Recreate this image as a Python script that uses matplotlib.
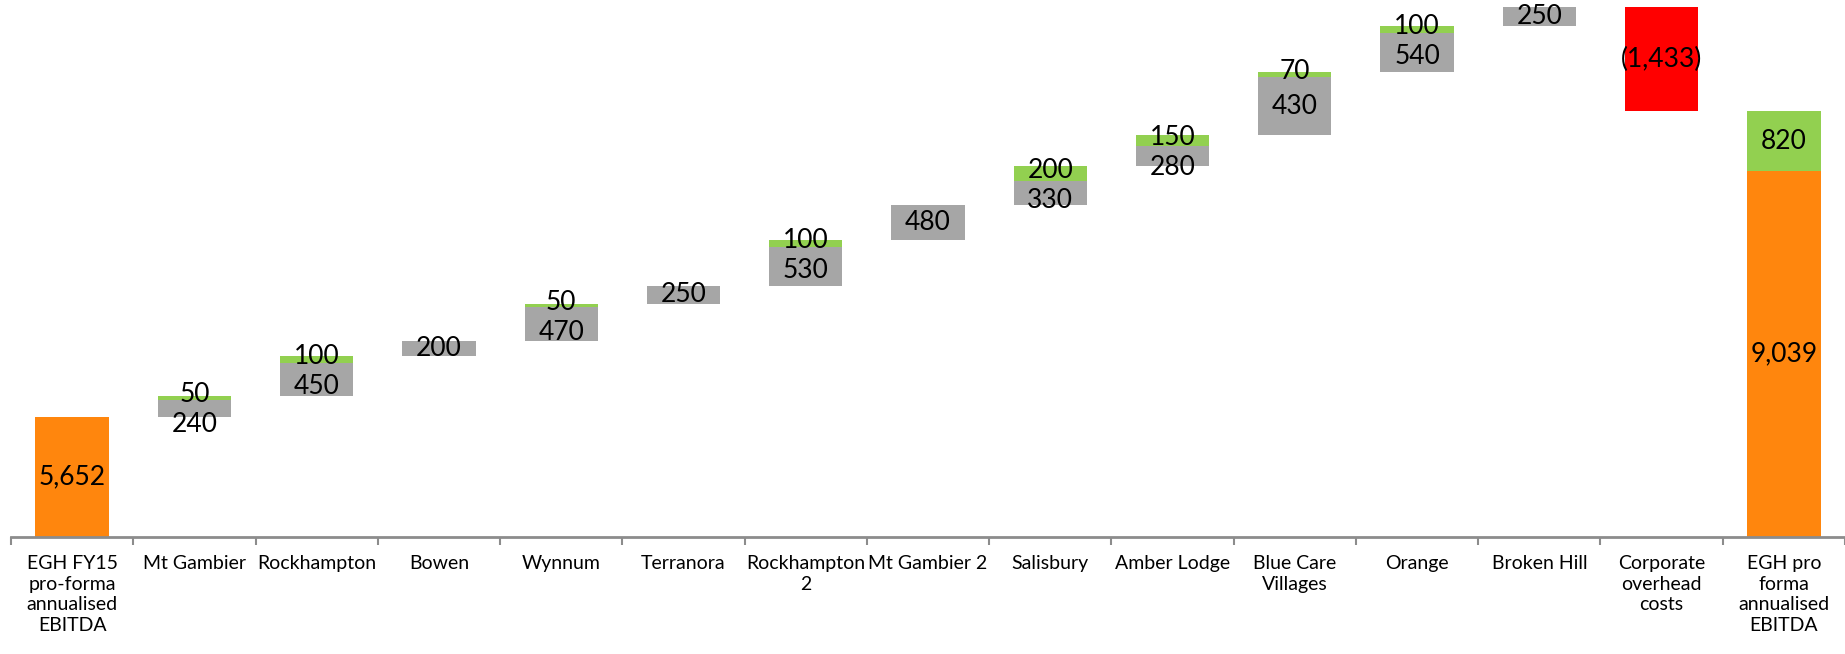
import matplotlib.pyplot as plt
import numpy as np

# DADOS
categorias = ['EGH FY15\npro-forma\nannualised\nEBITDA', 'Mt Gambier', 'Rockhampton', 'Bowen',
              'Wynnum', 'Terranora', 'Rockhampton\n2', 'Mt Gambier 2', 'Salisbury',
              'Amber Lodge', 'Blue Care\nVillages', 'Orange', 'Broken Hill',
              'Corporate\noverhead\ncosts', 'EGH pro\nforma\nannualised\nEBITDA']
inicio = 5652
cinza = [240, 450, 200, 470, 250, 530, 480, 330, 280, 800, 540, 250]   # altura desenhada
cinza_txt = ['240', '450', '200', '470', '250', '530', '480', '330', '280', '430', '540', '250']
verde = [50, 100, 0, 50, 0, 100, 0, 200, 150, 70, 100, 0]
overhead = -1433
fim_base = 9039
fim_verde = 820

LARANJA = '#FF860D'
CINZA = '#A6A6A6'
VERDE = '#92D050'
VERMELHO = '#FF0000'

plt.rcParams['font.family'] = ['Lato', 'DejaVu Sans']

fig = plt.figure(figsize=(18.45, 6.54), dpi=100)
ax = fig.add_axes([11/1845, 117/654, 1 - 11/1845, 537/654])

y0 = 4000
esc = 0.07263          # px por unidade
w = 0.6
fs = 19
x = np.arange(len(categorias))

# barra inicial
ax.bar(x[0], inicio - y0, bottom=y0, width=w, color=LARANJA)
ax.text(x[0], (inicio + y0)/2, '5,652', ha='center', va='center', fontsize=fs)

acum = inicio
for i in range(len(cinza)):
    xi = x[i+1]
    ax.bar(xi, cinza[i], bottom=acum, width=w, color=CINZA)
    y_cinza = acum + cinza[i]/2
    if verde[i] > 0:
        topo = acum + cinza[i]
        ax.bar(xi, verde[i], bottom=topo, width=w, color=VERDE)
        y_verde = topo + verde[i]/2 + 3/esc
        ax.text(xi, y_verde, str(verde[i]), ha='center', va='center', fontsize=fs)
        # evitar sobreposição dos rótulos
        y_cinza = min(y_cinza, y_verde - 30/esc)
    ax.text(xi, y_cinza, cinza_txt[i], ha='center', va='center', fontsize=fs)
    acum += cinza[i] + verde[i]

# custos corporativos
ax.bar(x[13], -overhead, bottom=acum + overhead, width=w, color=VERMELHO)
ax.text(x[13], acum + overhead/2, '(1,433)', ha='center', va='center', fontsize=fs)

# barra final
ax.bar(x[14], fim_base - y0, bottom=y0, width=w, color=LARANJA)
ax.bar(x[14], fim_verde, bottom=fim_base, width=w, color=VERDE)
ax.text(x[14], (fim_base + y0)/2, '9,039', ha='center', va='center', fontsize=fs)
ax.text(x[14], fim_base + fim_verde/2, '820', ha='center', va='center', fontsize=fs)

ax.set_xlim(-0.5, len(categorias) - 0.5)
ax.set_ylim(y0, y0 + 537/esc)

for s in ['top', 'right', 'left']:
    ax.spines[s].set_visible(False)
ax.spines['bottom'].set_color('#8C8C8C')
ax.spines['bottom'].set_linewidth(2)
ax.set_yticks([])

ax.set_xticks(np.arange(-0.5, len(categorias), 1))
ax.set_xticklabels([])
ax.tick_params(axis='x', which='major', length=6, width=1.5, color='#8C8C8C')
ax.set_xticks(x, minor=True)
ax.set_xticklabels(categorias, minor=True, fontsize=14, linespacing=1.25)
ax.tick_params(axis='x', which='minor', length=0, pad=13)

fig.savefig('out.png', dpi=100)
